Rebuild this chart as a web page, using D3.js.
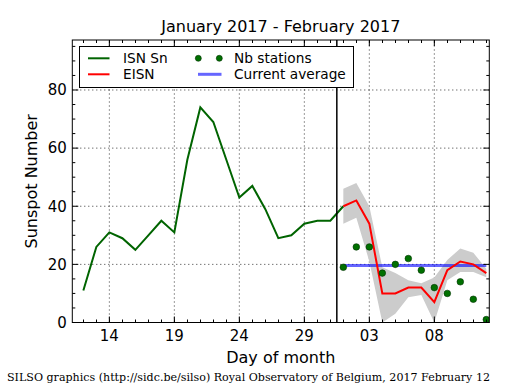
<!DOCTYPE html>
<html lang="en">
<head>
<meta charset="UTF-8">
<title>SILSO daily sunspot number</title>
<style>
  body { margin: 0; background: #fff; }
  text { font-family: "DejaVu Sans", sans-serif; }
</style>
</head>
<body>
<script src="https://d3js.org/d3.v7.min.js"></script>
<script>
  const width = 515, height = 390;
  const margin = { top: 40, left: 72.3, bottom: 67.5, right: 25.7 };

  // daily ISN (Sn), January 12 - February 1
  const isnDates = ["2017-01-12", "2017-01-13", "2017-01-14", "2017-01-15", "2017-01-16", "2017-01-17",
    "2017-01-18", "2017-01-19", "2017-01-20", "2017-01-21", "2017-01-22", "2017-01-23", "2017-01-24",
    "2017-01-25", "2017-01-26", "2017-01-27", "2017-01-28", "2017-01-29", "2017-01-30", "2017-01-31",
    "2017-02-01"];
  const isnValues = [11, 26, 31, 29, 25, 30, 35, 31, 56, 74, 69, 56, 43, 47, 39, 29, 30, 34, 35, 35, 40];

  // estimated ISN (EISN), February 1 - 12
  const eisnDates = ["2017-02-01", "2017-02-02", "2017-02-03", "2017-02-04", "2017-02-05", "2017-02-06",
    "2017-02-07", "2017-02-08", "2017-02-09", "2017-02-10", "2017-02-11", "2017-02-12"];
  const eisnValues = [40, 42, 34, 10, 10, 12, 12, 7, 18, 21, 20, 17];
  const eisnUpper = [46, 48, 40, 19, 17, 14.5, 13.5, 15.5, 21.5, 25.5, 24, 18.5];
  const eisnLower = [34, 36, 21, 0, 3, 8.7, 9.5, 0, 14.5, 17.4, 17.4, 15.6];
  const nbStations = [19, 26, 26, 17, 20, 22, 18, 12, 10, 14, 8, 1];
  const currentAverage = 19.6;

  const xDomain = ["2017-01-11T03:36", "2017-02-12T05:31"];
  const monthStart = "2017-01-31T12:00";
  const xTickDates = ["2017-01-14", "2017-01-19", "2017-01-24", "2017-01-29", "2017-02-03", "2017-02-08"];
  const yTicks = [0, 20, 40, 60, 80];
  const yMax = 97.2;

  const parseDay = d3.utcParse("%Y-%m-%d");
  const parseTime = d3.utcParse("%Y-%m-%dT%H:%M");

  const svg = d3.select("body").append("svg").attr("width", width).attr("height", height);

  const x = d3.scaleUtc().domain(xDomain.map(parseTime)).range([margin.left, width - margin.right]);
  const y = d3.scaleLinear().domain([0, yMax]).range([height - margin.bottom, margin.top]);

  const x0 = margin.left, x1 = width - margin.right;
  const y0 = height - margin.bottom, y1 = margin.top;

  svg.append("clipPath").attr("id", "plot")
    .append("rect").attr("x", x0).attr("y", y1).attr("width", x1 - x0).attr("height", y0 - y1);

  // grid
  const grid = svg.append("g").attr("stroke", "#000").attr("stroke-width", 0.8).attr("stroke-dasharray", "1,3");
  xTickDates.map(parseDay).forEach(d => {
    grid.append("line").attr("x1", x(d)).attr("x2", x(d)).attr("y1", y0).attr("y2", y1);
  });
  yTicks.forEach(v => {
    grid.append("line").attr("x1", x0).attr("x2", x1).attr("y1", y(v)).attr("y2", y(v));
  });

  const plot = svg.append("g").attr("clip-path", "url(#plot)");

  const eisn = eisnDates.map((d, i) => ({
    date: parseDay(d), v: eisnValues[i], hi: eisnUpper[i], lo: eisnLower[i], nb: nbStations[i]
  }));
  const isn = isnDates.map((d, i) => ({ date: parseDay(d), v: isnValues[i] }));

  // uncertainty band
  plot.append("path").datum(eisn)
    .attr("fill", "#cccccc")
    .attr("d", d3.area().x(d => x(d.date)).y0(d => y(d.lo)).y1(d => y(d.hi)));

  // month divider
  svg.append("line")
    .attr("x1", x(parseTime(monthStart))).attr("x2", x(parseTime(monthStart)))
    .attr("y1", y0).attr("y2", y1)
    .attr("stroke", "#000").attr("stroke-width", 1.5);

  // current average
  plot.append("line")
    .attr("x1", x(eisn[0].date)).attr("x2", x(eisn[eisn.length - 1].date))
    .attr("y1", y(currentAverage)).attr("y2", y(currentAverage))
    .attr("stroke", "#0000ff").attr("stroke-opacity", 0.6).attr("stroke-width", 3);

  const line = d3.line().x(d => x(d.date)).y(d => y(d.v));

  plot.append("path").datum(isn)
    .attr("fill", "none").attr("stroke", "#006400").attr("stroke-width", 2)
    .attr("d", line);

  plot.append("path").datum(eisn)
    .attr("fill", "none").attr("stroke", "#ff0000").attr("stroke-width", 2)
    .attr("d", line);

  plot.selectAll("circle.nb").data(eisn).enter().append("circle")
    .attr("class", "nb")
    .attr("cx", d => x(d.date)).attr("cy", d => y(d.nb)).attr("r", 3.3)
    .attr("fill", "#007000").attr("stroke", "#003000").attr("stroke-width", 0.6);

  // frame
  svg.append("rect").attr("x", x0).attr("y", y1).attr("width", x1 - x0).attr("height", y0 - y1)
    .attr("fill", "none").attr("stroke", "#000").attr("stroke-width", 1);

  // ticks (inside, on all four sides)
  const ticks = svg.append("g").attr("stroke", "#000").attr("stroke-width", 1);
  const minorDays = d3.utcDay.range(x.domain()[0], x.domain()[1]);
  minorDays.forEach(d => {
    const px = Math.round(x(d)) + 0.5;
    ticks.append("line").attr("x1", px).attr("x2", px).attr("y1", y0).attr("y2", y0 - 3);
    ticks.append("line").attr("x1", px).attr("x2", px).attr("y1", y1).attr("y2", y1 + 3);
  });
  xTickDates.map(parseDay).forEach(d => {
    ticks.append("line").attr("x1", x(d)).attr("x2", x(d)).attr("y1", y0).attr("y2", y0 - 6);
    ticks.append("line").attr("x1", x(d)).attr("x2", x(d)).attr("y1", y1).attr("y2", y1 + 6);
  });
  d3.range(0, yMax, 5).forEach(v => {
    const len = v % 20 === 0 ? 6 : 3;
    ticks.append("line").attr("x1", x0).attr("x2", x0 + len).attr("y1", y(v)).attr("y2", y(v));
    ticks.append("line").attr("x1", x1).attr("x2", x1 - len).attr("y1", y(v)).attr("y2", y(v));
  });

  // tick labels
  const fmtDay = d3.utcFormat("%d");
  svg.append("g").selectAll("text").data(xTickDates.map(parseDay)).enter().append("text")
    .attr("x", d => x(d)).attr("y", y0 + 18.5)
    .attr("text-anchor", "middle").attr("font-size", 15)
    .text(d => fmtDay(d));
  svg.append("g").selectAll("text").data(yTicks).enter().append("text")
    .attr("x", x0 - 5.5).attr("y", d => y(d) + 5.3)
    .attr("text-anchor", "end").attr("font-size", 15)
    .text(d => d);

  // titles
  svg.append("text").attr("x", (x0 + x1) / 2).attr("y", 32)
    .attr("text-anchor", "middle").attr("font-size", 16)
    .text("January 2017 - February 2017");
  svg.append("text").attr("x", (x0 + x1) / 2).attr("y", 363)
    .attr("text-anchor", "middle").attr("font-size", 16)
    .text("Day of month");
  svg.append("text")
    .attr("transform", `translate(37,${(y0 + y1) / 2}) rotate(-90)`)
    .attr("text-anchor", "middle").attr("font-size", 16)
    .text("Sunspot Number");
  svg.append("text").attr("x", 7).attr("y", 381)
    .attr("font-size", 11).style("font-family", "'DejaVu Serif', serif")
    .attr("textLength", 483).attr("lengthAdjust", "spacingAndGlyphs")
    .text("SILSO graphics (http://sidc.be/silso) Royal Observatory of Belgium, 2017 February 12");

  // legend
  const lg = svg.append("g");
  lg.append("rect").attr("x", 79.5).attr("y", 46.5).attr("width", 274).attr("height", 41)
    .attr("fill", "#fff").attr("stroke", "#000").attr("stroke-width", 1);
  const rows = [58.3, 74.3];
  lg.append("line").attr("x1", 88).attr("x2", 109.5).attr("y1", rows[0]).attr("y2", rows[0])
    .attr("stroke", "#006400").attr("stroke-width", 2);
  lg.append("line").attr("x1", 88).attr("x2", 109.5).attr("y1", rows[1]).attr("y2", rows[1])
    .attr("stroke", "#ff0000").attr("stroke-width", 2);
  [198.3, 219.3].forEach(px => {
    lg.append("circle").attr("cx", px).attr("cy", rows[0]).attr("r", 3)
      .attr("fill", "#007000").attr("stroke", "#003000").attr("stroke-width", 0.6);
  });
  lg.append("line").attr("x1", 198).attr("x2", 221.5).attr("y1", rows[1]).attr("y2", rows[1])
    .attr("stroke", "#0000ff").attr("stroke-opacity", 0.6).attr("stroke-width", 3);
  const legendText = [["ISN Sn", 123, rows[0]], ["EISN", 123, rows[1]],
    ["Nb stations", 234, rows[0]], ["Current average", 234, rows[1]]];
  lg.selectAll("text.lg").data(legendText).enter().append("text")
    .attr("x", d => d[0] === "" ? 0 : d[1]).attr("y", d => d[2] + 5)
    .attr("font-size", 13.7)
    .text(d => d[0]);
</script>
</body>
</html>
